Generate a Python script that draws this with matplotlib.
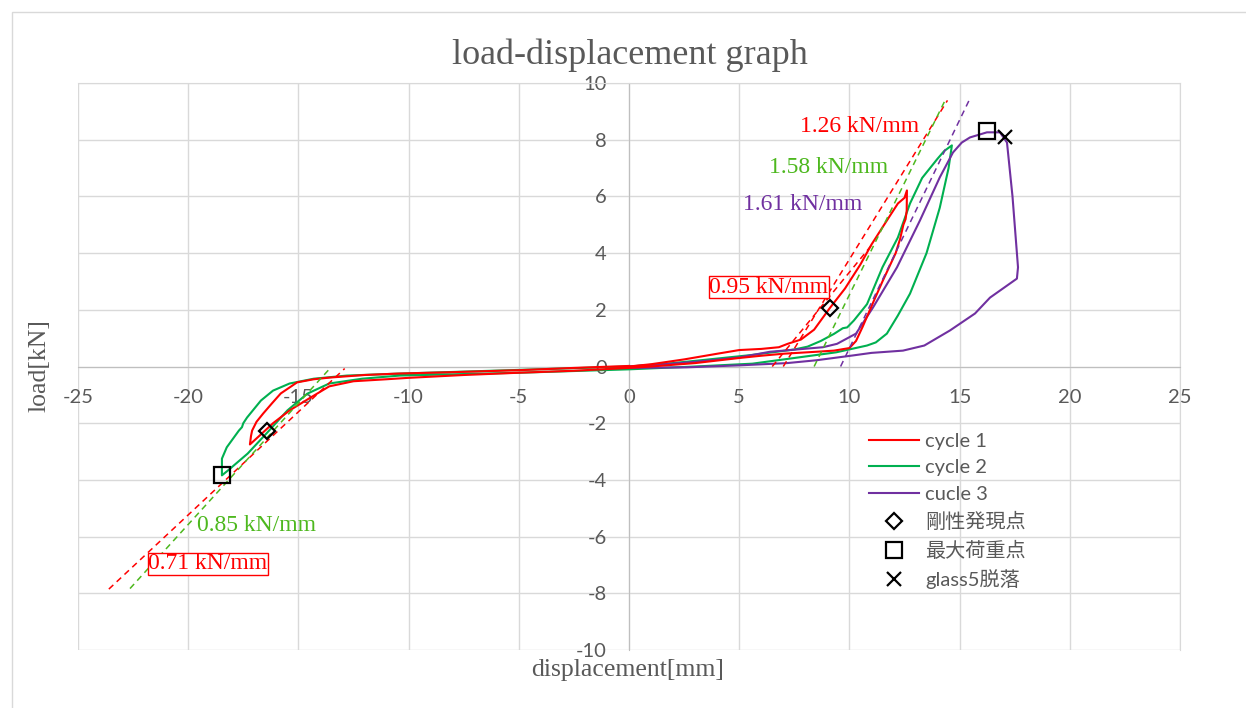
import matplotlib.pyplot as plt
from matplotlib.patches import Rectangle
import numpy as np

plt.rcParams['axes.unicode_minus'] = False

# ---- data ----
# cycle 1 (red)
c1_x = [0, 1, 2.5, 4, 5, 6, 6.8, 7.2, 7.8, 8.4, 9.1, 9.8, 10.5, 11.0, 11.7, 12.2, 12.5, 12.61,
        12.6, 12.55, 12.45, 12.3, 12.1, 11.8, 11.5, 11.1, 10.6, 10.3, 10.0, 9.3, 8.5, 7.0, 6.0, 5.0, 3.0, 1.0,
        0, -2.5, -5, -7.5, -10, -11, -12.5, -13.6, -14.5, -15.4, -16.15, -16.75, -17.2,
        -17.15, -17.1, -16.9, -16.6, -16.2, -15.8, -15.06, -14.3, -13.57, -12, -10.5, -8, -5, -2.5, 0]
c1_y = [0, 0.08, 0.25, 0.45, 0.58, 0.62, 0.68, 0.8, 0.95, 1.3, 2.05, 2.75, 3.6, 4.3, 5.15, 5.75, 5.95, 6.21,
        5.5, 5.2, 5.0, 4.5, 4.0, 3.5, 3.0, 2.3, 1.4, 0.9, 0.65, 0.56, 0.52, 0.45, 0.38, 0.3, 0.12, 0.0,
        -0.05, -0.15, -0.22, -0.3, -0.4, -0.45, -0.52, -0.7, -1.12, -1.55, -2.0, -2.43, -2.75,
        -2.45, -2.26, -1.95, -1.66, -1.3, -0.95, -0.56, -0.45, -0.39, -0.3, -0.25, -0.2, -0.13, -0.05, 0.02]

# cycle 2 (green)
c2_x = [0, 2, 4, 5.5, 6.5, 7.5, 8.1, 8.7, 9.3, 9.7, 9.9, 10.2, 10.8, 11.5, 12.2, 12.75, 13.3, 14.0, 14.3, 14.65,
        14.5, 14.1, 13.5, 12.75, 12.2, 11.7, 11.2, 10.8, 9.4, 7.5, 5.6, 3, 0, -5, -10.4, -12.1, -13.6, -14.6,
        -15.5, -16.4, -17.3, -18.2, -18.47,
        -18.47, -18.25, -17.7, -17.56, -17.5, -17.33, -16.7, -16.15, -15.4, -14.3, -12.8, -10.4, -5, 0]
c2_y = [0, 0.12, 0.28, 0.4, 0.5, 0.6, 0.7, 0.9, 1.15, 1.35, 1.38, 1.62, 2.2, 3.5, 4.55, 5.75, 6.65, 7.33, 7.6, 7.8,
        7.0, 5.6, 4.0, 2.57, 1.8, 1.16, 0.85, 0.74, 0.5, 0.3, 0.1, 0.0, -0.1, -0.22, -0.32, -0.43, -0.6, -0.96,
        -1.55, -2.32, -3.07, -3.67, -3.84,
        -3.25, -2.85, -2.26, -2.14, -2.0, -1.8, -1.2, -0.85, -0.6, -0.43, -0.32, -0.25, -0.12, 0.0]

# cycle 3 (purple)
c3_x = [0, 2, 3.5, 5, 6.4, 7.9, 8.8, 9.44, 10.3, 11.07, 12.16, 13.2, 14.1, 14.7, 15.1, 15.47, 16.24, 16.83,
        17.15, 17.4, 17.65, 17.6, 16.38, 15.7, 14.56, 13.4, 12.43, 11.0, 10.16, 8.5, 7.17, 5.0, 2.6, 0]
c3_y = [0, 0.1, 0.2, 0.32, 0.52, 0.62, 0.68, 0.8, 1.16, 2.08, 3.5, 5.15, 6.67, 7.55, 7.9, 8.08, 8.26, 8.26,
        7.9, 6.0, 3.5, 3.1, 2.43, 1.87, 1.27, 0.74, 0.56, 0.48, 0.39, 0.22, 0.12, 0.04, -0.03, -0.05]

# marked points
onset_x = [9.12, -16.43]
onset_y = [2.08, -2.28]
maxload_x = [16.24, -18.47]
maxload_y = [8.29, -3.84]
drop_x = [17.06]
drop_y = [8.08]

# stiffness lines: slope, x-intercept, drawn x-range
fit_k = [1.26, 0.95, 1.58, 1.61, 0.727, 0.856]
fit_x0 = [7.0, 6.5, 8.4, 9.6, -12.8, -13.49]
fit_from = [7.0, 6.5, 8.4, 9.6, -23.6, -22.64]
fit_to = [14.45, 11.1, 14.35, 15.45, -12.9, -13.57]
fit_text = ['1.26 kN/mm', '0.95 kN/mm', '1.58 kN/mm', '1.61 kN/mm', '0.71 kN/mm', '0.85 kN/mm']

RED = '#FF0000'
GREEN = '#00B050'
PURPLE = '#7030A0'
LGREEN = '#4DB81E'
GRAY = '#595959'
fit_color = [RED, RED, LGREEN, PURPLE, RED, LGREEN]
text_pos = [(10.48, 8.47), (6.35, 2.79), (9.07, 7.02), (7.9, 5.71), (-19.12, -6.95), (-16.88, -5.61)]
text_box = [False, True, False, False, True, False]

fig = plt.figure(figsize=(12.46, 7.08), dpi=100)
ax = fig.add_axes([78 / 1246, 1 - 650 / 708, 1102 / 1246, 567 / 708])

ax.plot(c1_x, c1_y, color=RED, lw=1.5, label='cycle 1', zorder=4)
ax.plot(c2_x, c2_y, color=GREEN, lw=1.5, label='cycle 2', zorder=3)
ax.plot(c3_x, c3_y, color=PURPLE, lw=1.5, label='cucle 3', zorder=3)

for k, x0, a, b, c in zip(fit_k, fit_x0, fit_from, fit_to, fit_color):
    xs = np.array([a, b])
    ax.plot(xs, k * (xs - x0), color=c, lw=1.1, ls=(0, (4, 3)), zorder=5)

ax.plot(onset_x, onset_y, ls='none', marker='D', ms=8, mfc='none', mec='black', mew=1.6,
        label='剛性発現点', zorder=6)
ax.plot(maxload_x, maxload_y, ls='none', marker='s', ms=11, mfc='none', mec='black', mew=1.6,
        label='最大荷重点', zorder=6)
ax.plot(drop_x, drop_y, ls='none', marker='x', ms=10, mec='black', mew=1.6,
        label='glass5脱落', zorder=6)

for t, (tx, ty), c, boxed in zip(fit_text, text_pos, fit_color, text_box):
    kw = {}
    if boxed:
        kw['bbox'] = dict(boxstyle='square,pad=0.02', fc='white', ec=c, lw=1)
    ax.text(tx, ty, t, color=c, fontsize=17, family='Liberation Serif',
            ha='center', va='center', zorder=7, **kw)

ax.set_xlim(-25, 25)
ax.set_ylim(-10, 10)
ax.set_xticks(range(-25, 26, 5))
ax.set_yticks(range(-10, 11, 2))
ax.grid(True, color='#D9D9D9', lw=1)
ax.set_axisbelow(True)
ax.spines['left'].set_position(('data', 0))
ax.spines['bottom'].set_position(('data', 0))
for s in ['left', 'bottom']:
    ax.spines[s].set_color('#BFBFBF')
for s in ['top', 'right']:
    ax.spines[s].set_color('#D9D9D9')
ax.tick_params(length=0, pad=16, labelsize=14.5, labelcolor=GRAY)
for lab in ax.get_xticklabels() + ax.get_yticklabels():
    lab.set_family('Lato')

fig.text(630 / 1246, 1 - 55 / 708, 'load-displacement graph', ha='center', va='center',
         fontsize=26, family='Liberation Serif', color=GRAY)
fig.text(628 / 1246, 1 - 670 / 708, 'displacement[mm]', ha='center', va='center',
         fontsize=18.5, family='Liberation Serif', color=GRAY)
fig.text(40 / 1246, 1 - 366 / 708, 'load[kN]', ha='center', va='center', rotation=90,
         fontsize=18.5, family='Liberation Serif', color=GRAY)

leg = ax.legend(loc='upper left', bbox_to_anchor=(869 / 1246, 1 - 433 / 708),
                bbox_transform=fig.transFigure, frameon=False, borderpad=0, borderaxespad=0,
                handlelength=2.5, handletextpad=0.3, labelspacing=0.46,
                prop={'family': ['Lato', 'Noto Sans CJK JP'], 'size': 14.5})
for t in leg.get_texts():
    t.set_color(GRAY)

fig.patches.append(Rectangle((12 / 1246, -0.1), 1.2, 1.1 - 12 / 708, transform=fig.transFigure,
                             fill=False, ec='#D9D9D9', lw=1))

fig.savefig('out.png', dpi=100)
